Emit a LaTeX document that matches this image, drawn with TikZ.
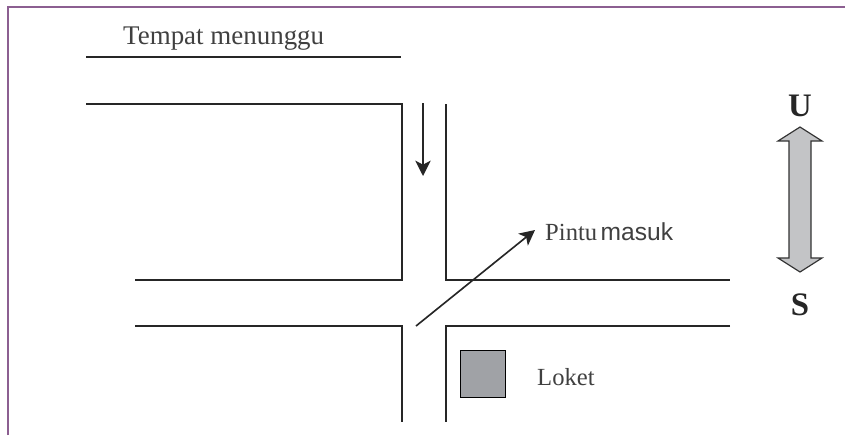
\documentclass[tikz,border=0pt]{standalone}
\usepackage{fontspec}
\usetikzlibrary{arrows.meta}
\setmainfont{Liberation Serif}
\setsansfont{Liberation Sans}
\definecolor{framepurple}{RGB}{140,95,145}
\definecolor{loketgray}{RGB}{160,162,166}
\definecolor{arrowgray}{RGB}{195,196,198}
\tikzset{
  wall/.style={draw,line width=1.2pt,-,color=black!85},
  walk/.style={draw,line width=1.4pt,-{Stealth[length=4.6mm,width=4.6mm,inset=1.2mm]},color=black!85},
  caption/.style={font=\fontsize{21}{24}\selectfont,color=black!75,inner sep=0pt},
  dirlabel/.style={font=\fontsize{28}{30}\selectfont\bfseries,color=black!85,inner sep=0pt},
}
\begin{document}
\begin{tikzpicture}[x=0.03cm,y=-0.03cm]
\useasboundingbox (0,0) rectangle (845,435);

% frame
\coordinate (f1) at (8,435);
\coordinate (f2) at (8,7);
\coordinate (f3) at (845,7);
\path[draw,color=framepurple,line width=2pt] (f1) -- (f2) -- (f3);

% walls
\coordinate (a1) at (86,57);
\coordinate (a2) at (401,57);
\coordinate (b1) at (86,104);
\coordinate (b2) at (402,104);
\coordinate (b3) at (402,280);
\coordinate (b4) at (135,280);
\coordinate (c1) at (446,104);
\coordinate (c2) at (446,280);
\coordinate (c3) at (730,280);
\coordinate (d1) at (135,326);
\coordinate (d2) at (402,326);
\coordinate (d3) at (402,422);
\coordinate (e1) at (730,326);
\coordinate (e2) at (446,326);
\coordinate (e3) at (446,422);

\path[wall] (a1) -- (a2);
\path[wall] (b1) -- (b2) -- (b3) -- (b4);
\path[wall] (c1) -- (c2) -- (c3);
\path[wall] (d1) -- (d2) -- (d3);
\path[wall] (e1) -- (e2) -- (e3);

% arrows
\coordinate (w1) at (423,103);
\coordinate (w2) at (423,176);
\coordinate (p1) at (416,326);
\coordinate (p2) at (535,230);
\path[walk] (w1) -- (w2);
\path[walk] (p1) -- (p2);

% loket
\node[draw,fill=loketgray,line width=1.1pt,inner sep=0pt,minimum width=1.36cm,minimum height=1.42cm] (loket) at (483,374) {};

% north-south arrow
\path[draw,fill=arrowgray,line width=1pt,color=black!80,fill=arrowgray] (800,127) -- (822,141) -- (811,141) -- (811,258) -- (822,258) -- (800,272) -- (778,258) -- (789,258) -- (789,141) -- (778,141) -- cycle;

% texts
\node[caption,font=\fontsize{23}{26}\selectfont,anchor=base west] (tunggu) at (123,44) {Tempat menunggu};
\node[caption,anchor=base west] (pintu) at (545,240) {Pintu\kern3pt{\sffamily masuk}};
\node[caption,anchor=base west] (loketname) at (537,385) {Loket};
\node[dirlabel] (u) at (800,106) {U};
\node[dirlabel] (s) at (800,305) {S};
\end{tikzpicture}
\end{document}
